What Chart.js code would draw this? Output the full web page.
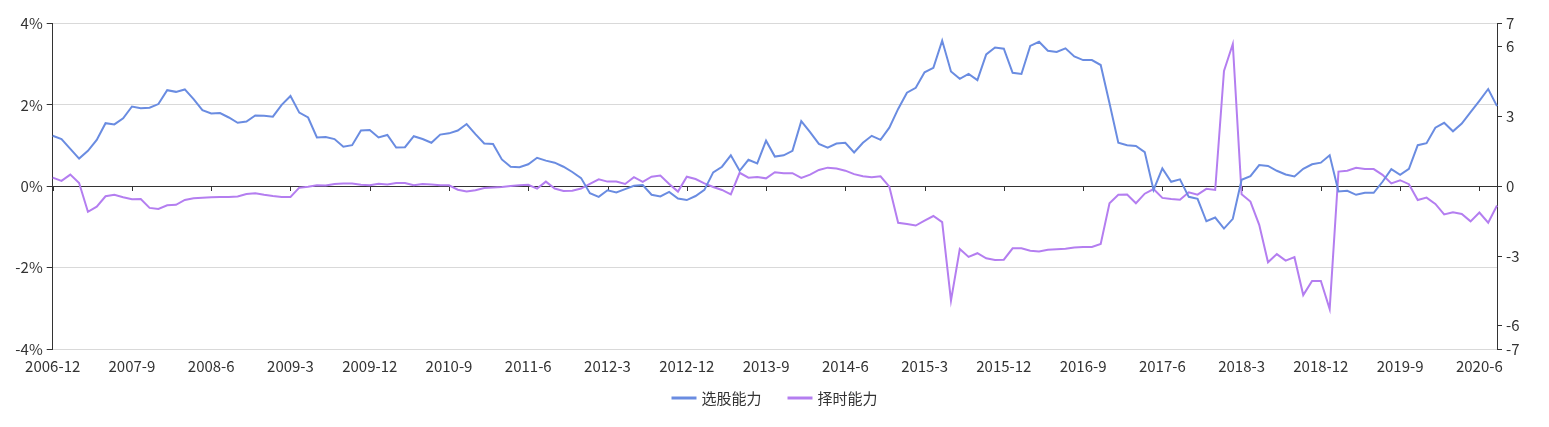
<!DOCTYPE html>
<html>
<head>
<meta charset="utf-8">
<script src="https://cdn.jsdelivr.net/npm/chart.js@4.4.1/dist/chart.umd.min.js"></script>
<style>
  html, body { margin: 0; padding: 0; background: #fff; }
</style>
</head>
<body>
<canvas id="myChart" width="1549" height="427"></canvas>
<script>
// categories: monthly, 2006-12 .. 2020-8
const months = [];
for (let yr = 2006, mo = 12; months.length < 165; ) {
  months.push(yr + '-' + mo);
  mo++;
  if (mo > 12) { mo = 1; yr++; }
}
const labelStep = 9;  // one label every 9 months

// 选股能力 (left axis, %)
const stockPicking = [
  1.24, 1.16, 0.92, 0.68, 0.87, 1.14, 1.55, 1.52, 1.67, 1.96,
  1.92, 1.93, 2.02, 2.36, 2.32, 2.38, 2.14, 1.87, 1.79, 1.80,
  1.69, 1.56, 1.59, 1.74, 1.73, 1.71, 2.00, 2.22, 1.81, 1.69,
  1.20, 1.21, 1.16, 0.97, 1.01, 1.37, 1.38, 1.20, 1.26, 0.95,
  0.96, 1.23, 1.16, 1.07, 1.27, 1.30, 1.37, 1.53, 1.28, 1.05,
  1.04, 0.66, 0.48, 0.47, 0.54, 0.70, 0.63, 0.58, 0.48, 0.35,
  0.20, -0.17, -0.26, -0.10, -0.15, -0.07, 0.01, 0.03, -0.21, -0.25,
  -0.14, -0.30, -0.34, -0.24, -0.09, 0.34, 0.48, 0.76, 0.38, 0.65,
  0.56, 1.12, 0.73, 0.76, 0.87, 1.60, 1.33, 1.04, 0.95, 1.05,
  1.07, 0.83, 1.07, 1.24, 1.14, 1.44, 1.90, 2.30, 2.42, 2.80,
  2.91, 3.58, 2.82, 2.64, 2.76, 2.61, 3.24, 3.41, 3.38, 2.79,
  2.76, 3.45, 3.55, 3.33, 3.30, 3.39, 3.19, 3.10, 3.10, 2.98,
  2.04, 1.07, 1.01, 0.99, 0.84, -0.09, 0.44, 0.11, 0.17, -0.26,
  -0.31, -0.86, -0.77, -1.04, -0.80, 0.16, 0.25, 0.52, 0.50, 0.38,
  0.29, 0.24, 0.43, 0.54, 0.58, 0.76, -0.13, -0.11, -0.21, -0.16,
  -0.16, 0.11, 0.42, 0.28, 0.43, 1.01, 1.06, 1.44, 1.56, 1.35,
  1.54, 1.82, 2.10, 2.39, 1.97
];

// 择时能力 (right axis)
const timing = [
  0.37, 0.23, 0.50, 0.14, -1.10, -0.88, -0.43, -0.37, -0.47, -0.56,
  -0.55, -0.93, -0.98, -0.82, -0.80, -0.59, -0.52, -0.49, -0.47, -0.46,
  -0.46, -0.44, -0.33, -0.30, -0.37, -0.42, -0.46, -0.46, -0.06, -0.02,
  0.04, 0.03, 0.10, 0.12, 0.12, 0.06, 0.04, 0.11, 0.08, 0.14,
  0.14, 0.04, 0.10, 0.08, 0.04, 0.04, -0.15, -0.23, -0.17, -0.08,
  -0.05, -0.03, 0.01, 0.04, 0.06, -0.10, 0.20, -0.10, -0.20, -0.19,
  -0.10, 0.10, 0.30, 0.20, 0.20, 0.10, 0.39, 0.19, 0.41, 0.46,
  0.10, -0.23, 0.41, 0.31, 0.12, -0.03, -0.16, -0.35, 0.58, 0.37,
  0.40, 0.34, 0.60, 0.56, 0.56, 0.36, 0.50, 0.70, 0.80, 0.76,
  0.67, 0.52, 0.43, 0.39, 0.43, -0.02, -1.57, -1.62, -1.69, -1.48,
  -1.28, -1.54, -4.92, -2.70, -3.04, -2.88, -3.10, -3.17, -3.16, -2.67,
  -2.67, -2.77, -2.81, -2.73, -2.71, -2.69, -2.63, -2.61, -2.61, -2.48,
  -0.73, -0.37, -0.36, -0.73, -0.32, -0.12, -0.50, -0.55, -0.58, -0.26,
  -0.36, -0.11, -0.16, 4.96, 6.12, -0.34, -0.66, -1.66, -3.27, -2.92,
  -3.20, -3.05, -4.68, -4.07, -4.07, -5.28, 0.63, 0.67, 0.79, 0.74,
  0.74, 0.49, 0.12, 0.26, 0.09, -0.59, -0.49, -0.76, -1.21, -1.12,
  -1.19, -1.51, -1.13, -1.57, -0.83
];

const rightTicks = [-7, -6, -3, 0, 3, 6, 7];

const fontFamily = '"Microsoft YaHei", "Noto Sans CJK SC", sans-serif';
const textColor = '#333';

// small tick marks hanging below the zero line at each labelled month
const zeroTicks = {
  id: 'zeroTicks',
  beforeDatasetsDraw(chart) {
    const { ctx, scales: { x, y } } = chart;
    const y0 = Math.round(y.getPixelForValue(0));
    ctx.save();
    ctx.strokeStyle = '#333';
    ctx.lineWidth = 1;
    ctx.beginPath();
    for (let i = 0; i < months.length; i += labelStep) {
      const px = Math.round(x.getPixelForValue(i)) + 0.5;
      ctx.moveTo(px, y0);
      ctx.lineTo(px, y0 + 5);
    }
    ctx.stroke();
    ctx.restore();
  }
};

// legend centred under the axis labels
const bottomLegend = {
  id: 'bottomLegend',
  afterDraw(chart) {
    const ctx = chart.ctx;
    ctx.save();
    ctx.font = '15px ' + fontFamily;
    const items = chart.data.datasets.map(ds => ({
      text: ds.label,
      color: ds.borderColor,
      w: ctx.measureText(ds.label).width
    }));
    const lineW = 25, gap = 5, itemGap = 26;
    const total = items.reduce((s, it) => s + lineW + gap + it.w, 0) + itemGap * (items.length - 1);
    let x = chart.width / 2 - total / 2;
    const y = 398;
    items.forEach(it => {
      ctx.strokeStyle = it.color;
      ctx.lineWidth = 3;
      ctx.beginPath();
      ctx.moveTo(x, y);
      ctx.lineTo(x + lineW, y);
      ctx.stroke();
      x += lineW + gap;
      ctx.fillStyle = textColor;
      ctx.textBaseline = 'middle';
      ctx.textAlign = 'left';
      ctx.fillText(it.text, x, y);
      x += it.w + itemGap;
    });
    ctx.restore();
  }
};

const ctx = document.getElementById('myChart').getContext('2d');

new Chart(ctx, {
  type: 'line',
  data: {
    labels: months,
    datasets: [
      {
        label: '选股能力',
        data: stockPicking,
        yAxisID: 'y',
        borderColor: 'rgb(106,140,225)',
        backgroundColor: 'rgb(106,140,225)',
        borderWidth: 2,
        pointRadius: 0,
        tension: 0
      },
      {
        label: '择时能力',
        data: timing,
        yAxisID: 'y1',
        borderColor: 'rgb(180,126,240)',
        backgroundColor: 'rgb(180,126,240)',
        borderWidth: 2,
        pointRadius: 0,
        tension: 0
      }
    ]
  },
  options: {
    responsive: false,
    animation: false,
    layout: { padding: { top: 23.5, left: 0, right: 0, bottom: 0 } },
    plugins: {
      legend: { display: false },
      tooltip: { enabled: false }
    },
    scales: {
      x: {
        offset: false,
        grid: { display: false },
        border: { display: false },
        ticks: {
          autoSkip: false,
          maxRotation: 0,
          padding: 0,
          color: textColor,
          font: { family: fontFamily, size: 15 },
          callback: function(value, index) {
            return index % labelStep === 0 ? this.getLabelForValue(value) : null;
          }
        },
        afterFit(scale) { scale.height = 78; }
      },
      y: {
        position: 'left',
        min: -4,
        max: 4,
        border: { display: true, color: '#333', width: 1 },
        grid: {
          color: c => (c.tick && c.tick.value === 0 ? '#333' : '#d9d9d9'),
          lineWidth: 1,
          tickColor: '#333',
          tickLength: 6
        },
        ticks: {
          stepSize: 2,
          padding: 4,
          color: textColor,
          font: { family: fontFamily, size: 15 },
          callback: v => v + '%'
        },
        afterFit(scale) { scale.width = 52.7; }
      },
      y1: {
        position: 'right',
        min: -7,
        max: 7,
        border: { display: true, color: '#333', width: 1 },
        grid: {
          drawOnChartArea: false,
          tickColor: '#333',
          tickLength: 5
        },
        ticks: {
          padding: 4,
          color: textColor,
          font: { family: fontFamily, size: 15 }
        },
        afterBuildTicks(axis) {
          axis.ticks = rightTicks.map(v => ({ value: v }));
        },
        afterFit(scale) { scale.width = 52; }
      }
    }
  },
  plugins: [zeroTicks, bottomLegend]
});
</script>
</body>
</html>
